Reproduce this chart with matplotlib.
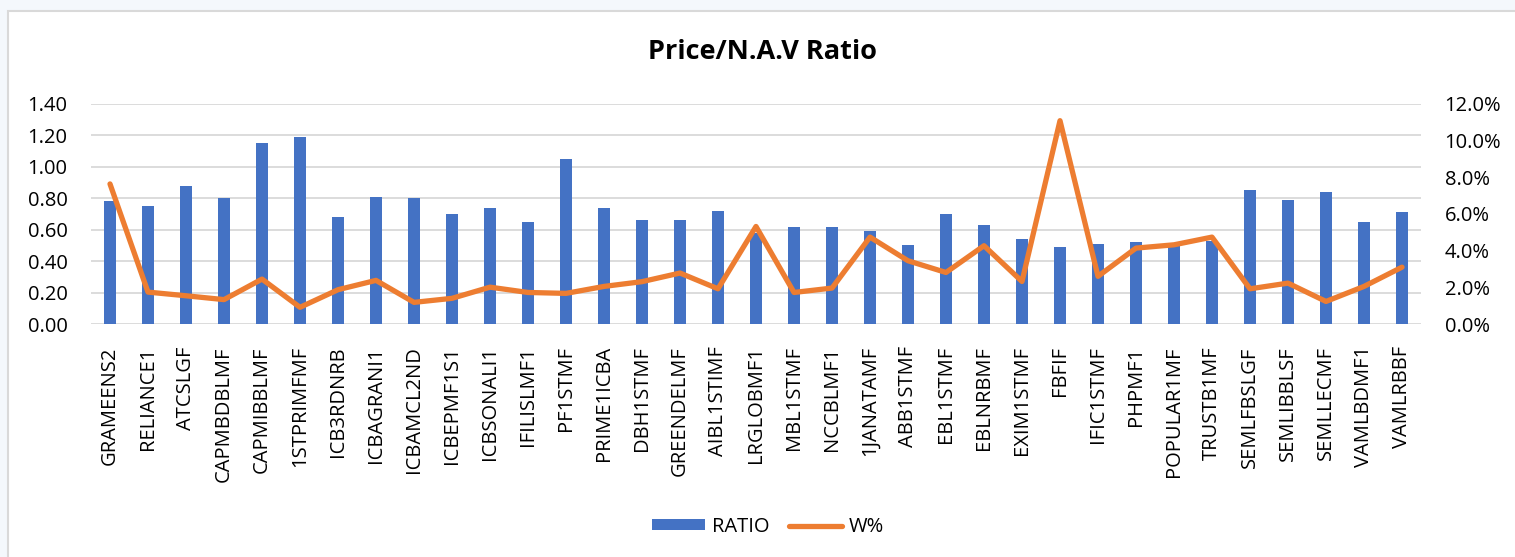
import matplotlib
matplotlib.use("Agg")
import matplotlib.pyplot as plt
from matplotlib.patches import Rectangle, Patch
from matplotlib.lines import Line2D
from matplotlib.ticker import FuncFormatter
import numpy as np

categories = ["GRAMEENS2", "RELIANCE1", "ATCSLGF", "CAPMBDBLMF", "CAPMIBBLMF", "1STPRIMFMF",
              "ICB3RDNRB", "ICBAGRANI1", "ICBAMCL2ND", "ICBEPMF1S1", "ICBSONALI1", "IFILISLMF1",
              "PF1STMF", "PRIME1ICBA", "DBH1STMF", "GREENDELMF", "AIBL1STIMF", "LRGLOBMF1",
              "MBL1STMF", "NCCBLMF1", "1JANATAMF", "ABB1STMF", "EBL1STMF", "EBLNRBMF",
              "EXIM1STMF", "FBFIF", "IFIC1STMF", "PHPMF1", "POPULAR1MF", "TRUSTB1MF",
              "SEMLFBSLGF", "SEMLIBBLSF", "SEMLLECMF", "VAMLBDMF1", "VAMLRBBF"]

ratio = [0.78, 0.75, 0.88, 0.80, 1.15, 1.19, 0.68, 0.81, 0.80, 0.70, 0.74, 0.65,
         1.05, 0.74, 0.66, 0.66, 0.72, 0.58, 0.62, 0.62, 0.59, 0.50, 0.70, 0.63,
         0.54, 0.49, 0.51, 0.52, 0.50, 0.53, 0.85, 0.79, 0.84, 0.65, 0.71]

w_pct = [0.0764, 0.0174, 0.0154, 0.0133, 0.0245, 0.0091, 0.0187, 0.0238, 0.0118, 0.0140,
         0.0201, 0.0172, 0.0167, 0.0205, 0.0231, 0.0278, 0.0192, 0.0532, 0.0172, 0.0196,
         0.0474, 0.0345, 0.0281, 0.0427, 0.0232, 0.1109, 0.0260, 0.0414, 0.0432, 0.0474,
         0.0192, 0.0223, 0.0123, 0.0205, 0.0310]

left_ticks = [0.0, 0.2, 0.4, 0.6, 0.8, 1.0, 1.2, 1.4]
right_ticks = [0.0, 0.02, 0.04, 0.06, 0.08, 0.10, 0.12]

BLUE = "#4472C4"
ORANGE = "#ED7D31"
GRID = "#D9D9D9"
FONT = "Open Sans"

plt.rcParams['font.family'] = [FONT, 'DejaVu Sans']

W, H = 1515, 557
fig = plt.figure(figsize=(W / 100, H / 100), dpi=100, facecolor="#F4F8FC")

# chart area box
box = Rectangle((8 / W, -0.05), 1.1, 1 - 11 / H + 0.05, transform=fig.transFigure,
                facecolor="white", edgecolor=GRID, linewidth=1.5, zorder=-10)
fig.patches.append(box)

ax = fig.add_axes([91 / W, 1 - 324 / H, (1421 - 91) / W, (324 - 104) / H])
ax.set_facecolor("none")
x = np.arange(len(categories))
ax.bar(x, ratio, width=0.31, color=BLUE, zorder=2)
ax.set_xlim(-0.5, len(categories) - 0.5)
ax.set_ylim(0, 1.4)
ax.set_yticks(left_ticks)
ax.yaxis.set_major_formatter(FuncFormatter(lambda v, p: f"{v:.2f}"))
ax.grid(axis="y", color=GRID, linewidth=1.3, zorder=0)
ax.set_axisbelow(True)
for s in ax.spines.values():
    s.set_visible(False)
ax.set_xticks(x)
ax.set_xticklabels(categories, rotation=90, fontsize=14.5, va="top", ha="center")
ax.tick_params(axis="x", length=0, pad=16, colors="black")
ax.tick_params(axis="y", length=0, pad=17, labelsize=14.5, colors="black")

ax2 = ax.twinx()
ax2.plot(x, w_pct, color=ORANGE, linewidth=3.8, solid_joinstyle="round", solid_capstyle="round", zorder=3)
ax2.set_ylim(0, 0.12)
ax2.set_yticks(right_ticks)
ax2.yaxis.set_major_formatter(FuncFormatter(lambda v, p: f"{v * 100:.1f}%"))
ax2.tick_params(axis="y", length=0, pad=17, labelsize=14.5, colors="black")
for s in ax2.spines.values():
    s.set_visible(False)

fig.text(763 / W, 1 - 52 / H, "Price/N.A.V Ratio", ha="center", va="center",
         fontsize=19.5, fontweight="bold")

handles = [Patch(facecolor=BLUE, edgecolor="none"),
           Line2D([0], [0], color=ORANGE, linewidth=3.8, solid_capstyle="round")]
fig.legend(handles, ["RATIO", "W%"], loc="center", bbox_to_anchor=(768 / W, 1 - 527 / H),
           ncol=2, frameon=False, fontsize=14.5, handlelength=2.6, handleheight=0.45,
           handletextpad=0.35, columnspacing=1.0)

fig.savefig("out.png", dpi=100, facecolor=fig.get_facecolor())
